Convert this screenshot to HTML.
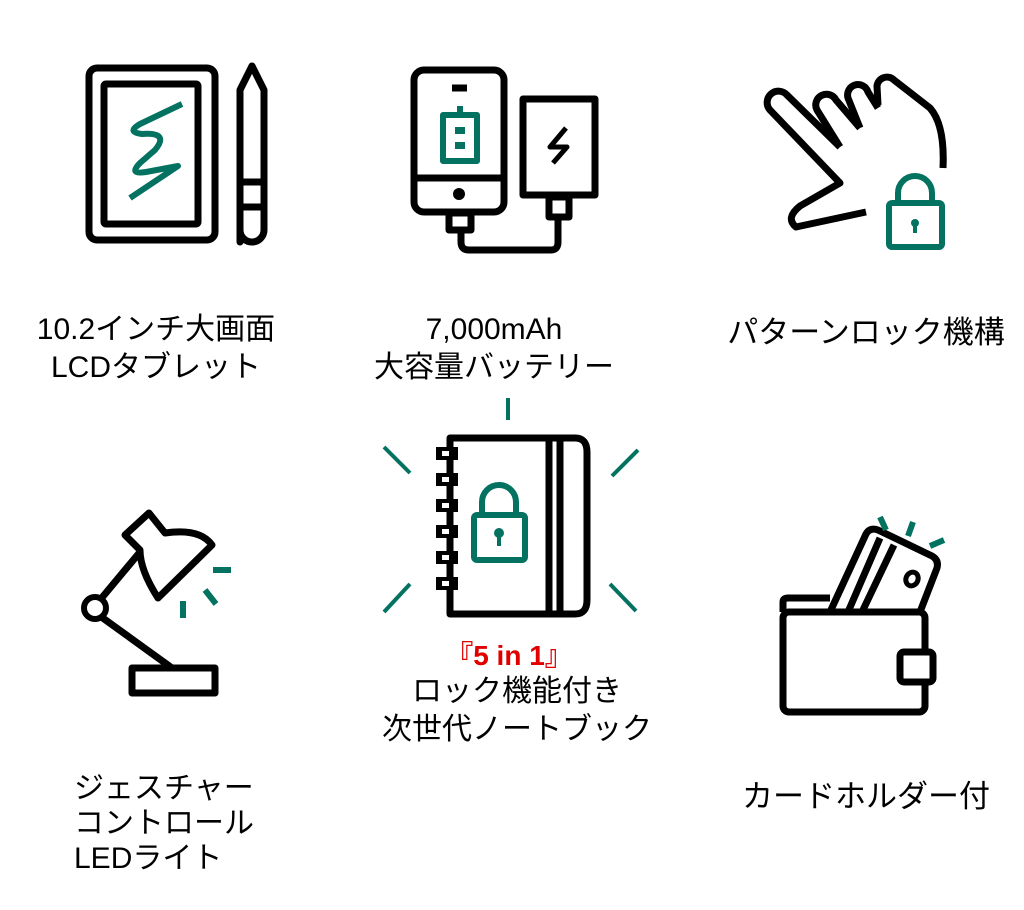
<!DOCTYPE html>
<html><head><meta charset="utf-8"><style>
html,body{margin:0;padding:0;background:#fff;}
.w{position:relative;width:1024px;height:910px;overflow:hidden;font-family:"Liberation Sans","Noto Sans CJK JP",sans-serif;color:#000;}
svg{position:absolute;left:0;top:0;}
.t{position:absolute;font-size:30px;line-height:38px;text-align:center;white-space:nowrap;}
</style></head><body><div class="w">
<svg width="1024" height="910" viewBox="0 0 1024 910" fill="none" stroke-linejoin="round" stroke-linecap="butt">
<g stroke="#000" stroke-width="7">
<!-- tablet -->
<rect x="89" y="68" width="126" height="172" rx="8"/>
<rect x="104" y="84" width="94" height="140" rx="2"/>
<!-- pencil -->
<path d="M240,242 L240,90 L252,66 L264,90 L264,230 A12 12 0 0 1 240,230 Z"/>
<path d="M240,182 H264 M240,207 H264"/>
<!-- phone -->
<rect x="414" y="70" width="90" height="142" rx="10"/>
<path d="M414,178 H504"/>
<path d="M452,88 H467"/>
<!-- bank -->
<rect x="523" y="99" width="72" height="96"/>
<rect x="449" y="213" width="22" height="17"/>
<rect x="549" y="197" width="20" height="20"/>
<path d="M461,231 V242 Q461,250 469,250 H551 Q558,250 558,242 V218"/>
<!-- hand -->
<path d="M840,147 L787,95 A11 11 0 0 0 770,110 L840,183 L800,206 Q785,218 796,227 L866,212"/>
<path d="M840,147 L817,110 A10 10 0 0 1 836,100 L860,128"/>
<path d="M860,128 L848,98 A10 10 0 0 1 868,92 L878,108"/>
<path d="M878,105 L877,86 A10 10 0 0 1 894,80 L930,108 Q945,125 943,168"/>
<!-- notebook -->
<path d="M450,438 H575 Q587,438 587,452 V600 Q587,614 575,614 H450 Z"/>
<path d="M549,438 V614 M560,438 V614"/>
<!-- lamp -->
<path d="M125,535 L149,513 L165,533 Q200,528 212,545 L158,598 Q140,570 140,550 Z"/>
<path d="M140,552 L100,600 M100,616 L172,668"/>
<rect x="132" y="668" width="83" height="25"/>
<!-- wallet -->
<path d="M830,612 L866,534 Q870,527 878,530 L932,556 Q939,560 937,568 L920,612"/>
<path d="M848,612 L880,538 M862,612 L894,545"/>
<path d="M783,612 V602 Q783,598 788,598 H830"/>
<rect x="783" y="612" width="142" height="100" rx="6"/>
<rect x="900" y="652" width="33" height="30" rx="4" fill="#fff"/>
</g>
<circle cx="459" cy="194" r="6" fill="#000"/>
<path d="M566,128 L550,147 H567 L553,163" stroke="#000" stroke-width="5"/>
<circle cx="95" cy="608" r="11" stroke="#000" stroke-width="6" fill="#fff"/>
<ellipse cx="912" cy="579" rx="6" ry="7" stroke="#000" stroke-width="5" transform="rotate(25 912 579)"/>
<g fill="#000">
<rect x="436" y="447" width="22" height="13"/><rect x="436" y="473" width="22" height="13"/>
<rect x="436" y="499" width="22" height="13"/><rect x="436" y="525" width="22" height="13"/>
<rect x="436" y="551" width="22" height="13"/><rect x="436" y="577" width="22" height="13"/>
</g>
<g fill="#fff"><rect x="442" y="451" width="7" height="5"/><rect x="442" y="477" width="7" height="5"/><rect x="442" y="503" width="7" height="5"/><rect x="442" y="529" width="7" height="5"/><rect x="442" y="555" width="7" height="5"/><rect x="442" y="581" width="7" height="5"/></g>
<g stroke="#047260" stroke-width="6">
<path d="M182,104 L140,124 Q126,132 142,134 Q170,132 155,150 L140,163 Q128,175 146,172 L178,166 L130,198"/>
<rect x="443" y="115" width="34" height="46"/>
<path d="M460,106 V115"/>
<rect x="889" y="203" width="53" height="44" rx="3"/>
<path d="M898,203 V193 A17 17 0 0 1 932,193 V203"/>
<rect x="474" y="515" width="51" height="45" rx="3"/>
<path d="M482,515 V502 A17 17 0 0 1 516,502 V515"/>
<path d="M508,398 V420 M384,447 L410,473 M638,450 L612,476 M384,612 L410,584 M610,584 L636,611" stroke-width="4"/>
<path d="M213,570 H231 M205,590 L216,604 M183,601 V618"/>
<path d="M880,517 L886,530 M913,522 L908,536 M930,546 L944,540"/>
</g>
<g fill="#047260"><rect x="455" y="127" width="10" height="7"/><rect x="455" y="142" width="10" height="7"/>
<circle cx="915" cy="223" r="4"/><rect x="913" y="223" width="4" height="10"/>
<circle cx="499" cy="533" r="5"/><rect x="497" y="533" width="4" height="13"/></g>
</svg>
<div class="t" style="left:6px;width:300px;top:311px">10.2インチ大画面<br>LCDタブレット</div>
<div class="t" style="left:344px;width:300px;top:311px">7,000mAh<br>大容量バッテリー</div>
<div class="t" style="left:716px;width:300px;top:314px;font-size:31px">パターンロック機構</div>
<div class="t" style="left:359px;width:300px;top:637px;color:#e00000;font-weight:bold;font-size:28px">『5 in 1』</div>
<div class="t" style="left:367px;width:300px;top:673px">ロック機能付き<br>次世代ノートブック</div>
<div class="t" style="left:74px;top:771px;text-align:left;line-height:35px">ジェスチャー<br>コントロール<br>LEDライト</div>
<div class="t" style="left:716px;width:300px;top:778px;font-size:31px">カードホルダー付</div>
</div></body></html>
